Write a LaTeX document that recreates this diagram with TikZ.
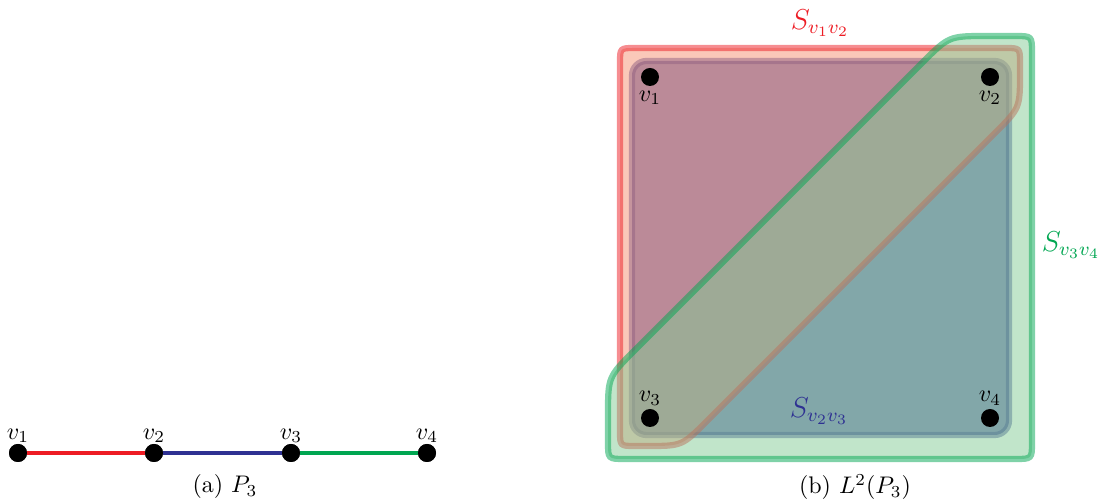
\documentclass[tikz,border=0pt]{standalone}
\begin{document}
\begin{tikzpicture}[x=0.4167pt,y=-0.4167pt,
  dot/.style={circle,fill=black,inner sep=0pt,minimum size=7.5pt},
  vlab/.style={inner sep=1pt},
  setbox/.style={line width=2.6pt,draw opacity=0.5,fill opacity=0.5,line join=round}]
\definecolor{myred}{RGB}{237,28,36}
\definecolor{myblue}{RGB}{46,49,146}
\definecolor{mygreen}{RGB}{0,166,81}
\definecolor{redfill}{RGB}{245,145,115}
\definecolor{greenfill}{RGB}{132,203,150}
\useasboundingbox (0,0) rectangle (1109,500);
% left: P3
\node[dot] (a1) at (18,453) {};
\node[dot] (a2) at (154,453) {};
\node[dot] (a3) at (291,453) {};
\node[dot] (a4) at (427,453) {};
\draw[myred,line width=2pt] (a1) -- (a2);
\draw[myblue,line width=2pt] (a2) -- (a3);
\draw[mygreen,line width=2pt] (a3) -- (a4);
\node[dot] at (a1) {};
\node[dot] at (a2) {};
\node[dot] at (a3) {};
\node[dot] at (a4) {};
\node[vlab,above=3pt] (la1) at (a1) {$v_1$};
\node[vlab,above=3pt] (la2) at (a2) {$v_2$};
\node[vlab,above=3pt] (la3) at (a3) {$v_3$};
\node[vlab,above=3pt] (la4) at (a4) {$v_4$};
\node (capa) at (225,487) {(a) $P_3$};
% right: sets
\draw[setbox,draw=myblue,fill=myblue,fill opacity=0.6,rounded corners=6pt] (632,61) rectangle (1009,435);
\draw[setbox,draw=myred,fill=redfill]
  (635,48) -- (1005,48) .. controls (1020,48) .. (1020,63)
  -- (1020,73) .. controls (1020,108) .. (995.3,132.7)
  -- (706.7,421.3) .. controls (682,446) .. (647,446)
  -- (635,446) .. controls (620,446) .. (620,431)
  -- (620,63) .. controls (620,48) .. (635,48) -- cycle;
\draw[setbox,draw=mygreen,fill=greenfill]
  (625,459) .. controls (608,459) .. (608,442)
  -- (608,415) .. controls (608,377) .. (634.9,350.1)
  -- (922.1,62.9) .. controls (949,36) .. (987,36)
  -- (1015,36) .. controls (1032,36) .. (1032,53)
  -- (1032,442) .. controls (1032,459) .. (1015,459) -- cycle;
\node[dot] (b1) at (650,77) {};
\node[dot] (b2) at (990,77) {};
\node[dot] (b3) at (650,418) {};
\node[dot] (b4) at (990,418) {};
\node[vlab,below=4.5pt] (lb1) at (b1) {$v_1$};
\node[vlab,below=4.5pt] (lb2) at (b2) {$v_2$};
\node[vlab,above=4pt] (lb3) at (b3) {$v_3$};
\node[vlab,above=4pt] (lb4) at (b4) {$v_4$};
\node[text=myred,font=\large] (s12) at (820,23) {$S_{v_1v_2}$};
\node[text=myblue,font=\large] (s23) at (819,411) {$S_{v_2v_3}$};
\node[text=mygreen,font=\large] (s34) at (1071,245) {$S_{v_3v_4}$};
\node (capb) at (855,487) {(b) $L^2(P_3)$};
\end{tikzpicture}
\end{document}
